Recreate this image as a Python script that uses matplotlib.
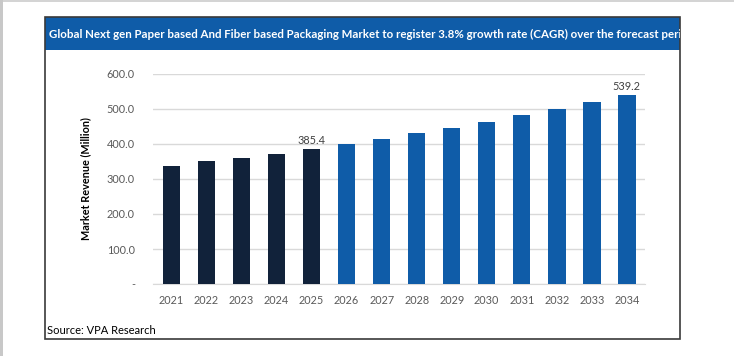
import numpy as np
import matplotlib.pyplot as plt
from matplotlib.patches import Rectangle

years = ['2021', '2022', '2023', '2024', '2025', '2026', '2027',
         '2028', '2029', '2030', '2031', '2032', '2033', '2034']
revenue = [337, 351, 360, 371, 385.4, 400, 415, 431, 447, 464, 482, 500, 519, 539.2]
labelled = {'2025': '385.4', '2034': '539.2'}
yticks = [0, 100, 200, 300, 400, 500, 600]
ytick_labels = ['-', '100.0', '200.0', '300.0', '400.0', '500.0', '600.0']
title = ('Global Next gen Paper based And Fiber based Packaging Market to register '
         '3.8% growth rate (CAGR) over the forecast period')

plt.rcParams['font.family'] = ['Lato', 'DejaVu Sans']

W, H = 734, 356
fig = plt.figure(figsize=(W / 100, H / 100), dpi=100)

def fx(px):
    return px / W

def fy(py):
    return 1 - py / H

# page edges
fig.add_artist(Rectangle((0, fy(2)), 1, 2 / H, transform=fig.transFigure,
                         color='#d4d4d4', lw=0))
fig.add_artist(Rectangle((0, 0), 3 / W, 1, transform=fig.transFigure,
                         color='#c8c8c8', lw=0))

# frame + title banner
box_l, box_r, box_t, box_b = 45, 680, 17, 339
banner = Rectangle((fx(box_l), fy(50)), fx(box_r - box_l), (50 - box_t) / H,
                   transform=fig.transFigure, color='#0f5ca8', lw=0)
fig.add_artist(banner)
fig.add_artist(Rectangle((fx(box_l), fy(box_b)), fx(box_r - box_l), (box_b - box_t) / H,
                         transform=fig.transFigure, fill=False, ec='#3a3a3a', lw=1.2))
t = fig.text(fx(49), fy(34), title, color='white', fontsize=8.3, fontweight='bold',
             va='center', ha='left')
t.set_clip_path(banner)

# plot area
ax_l, ax_r, ax_t, ax_b = 153, 645, 74, 284
ax = fig.add_axes([fx(ax_l), fy(ax_b), fx(ax_r - ax_l), (ax_b - ax_t) / H])
x = np.arange(len(years))
colors = ['#11223a' if int(y) <= 2025 else '#0f5ca8' for y in years]
ax.bar(x, revenue, width=0.5, color=colors, zorder=3)
for i, y in enumerate(years):
    if y in labelled:
        ax.text(x[i], revenue[i] + 8, labelled[y], ha='center', va='bottom',
                fontsize=7.8, color='#404040')

ax.set_xlim(-0.53, len(years) - 0.48)
ax.set_ylim(0, 600)
ax.set_yticks(yticks)
ax.set_yticklabels(ytick_labels)
ax.set_xticks(x)
ax.set_xticklabels(years)
ax.tick_params(axis='both', length=0, labelsize=7.8, labelcolor='#595959')
ax.tick_params(axis='y', pad=13)
ax.tick_params(axis='x', pad=8)
ax.yaxis.grid(True, color='#d9d9d9', lw=1, zorder=0)
for s in ax.spines.values():
    s.set_visible(False)
ax.spines['bottom'].set_visible(True)
ax.spines['bottom'].set_color('#d9d9d9')
ax.set_ylabel('Market Revenue (Million)', fontsize=7.8, fontweight='bold',
              color='black', labelpad=11)

fig.text(fx(47), fy(330), 'Source: VPA Research', fontsize=8, color='black',
         va='center', ha='left')

fig.savefig('out.png', dpi=100, facecolor='white')
